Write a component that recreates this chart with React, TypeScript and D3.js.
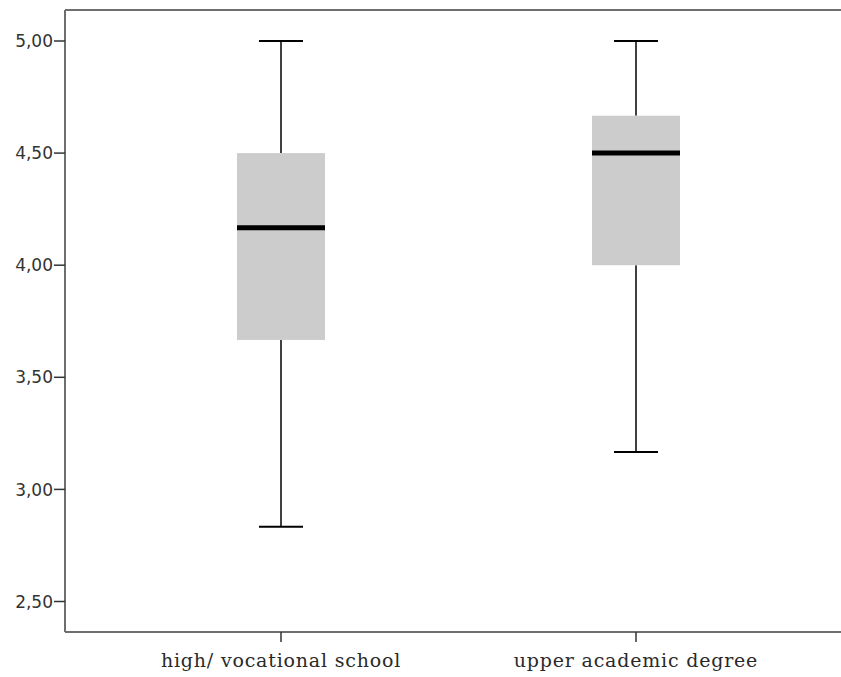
import React from "react";
import * as d3 from "d3";

// Five-number summaries per education group
const categories = ["high/ vocational school", "upper academic degree"];
const whiskerLow = [2.8333, 3.1667];
const q1 = [3.6667, 4.0];
const median = [4.1667, 4.5];
const q3 = [4.5, 4.6667];
const whiskerHigh = [5.0, 5.0];
const yTicks = [2.5, 3.0, 3.5, 4.0, 4.5, 5.0];

const W = 841;
const H = 677;
const left = 65;
const top = 10;
const bottom = 632;
const boxWidth = 88;

export default function App() {
  const y = d3.scaleLinear().domain([2.5, 5.0]).range([601.5, 41]);
  const x = d3.scalePoint<string>().domain(categories).range([281, 636]);
  const fmt = (v: number) => v.toFixed(2).replace(".", ",");
  const axisColor = "#6e6e6e";

  return (
    <svg width={W} height={H} style={{ position: "absolute", left: 0, top: 0 }}>
      <rect x={0} y={0} width={W} height={H} fill="#fff" />
      {/* frame */}
      <line x1={left} x2={W} y1={top} y2={top} stroke={axisColor} strokeWidth={2} />
      <line x1={left} x2={left} y1={top} y2={bottom} stroke={axisColor} strokeWidth={2} />
      <line x1={left} x2={W} y1={bottom} y2={bottom} stroke={axisColor} strokeWidth={2} />
      {/* y axis */}
      {yTicks.map((t) => (
        <g key={t}>
          <line x1={left - 11} x2={left} y1={y(t)} y2={y(t)} stroke="#333" strokeWidth={1.5} />
          <text x={left - 12} y={y(t)} dy="0.36em" textAnchor="end" fontFamily="DejaVu Sans" fontSize={17} fill="#333">
            {fmt(t)}
          </text>
        </g>
      ))}
      {/* boxes */}
      {categories.map((c, i) => {
        const cx = x(c)!;
        const bx = cx - boxWidth / 2;
        const capW = boxWidth / 2;
        return (
          <g key={c}>
            <line x1={cx} x2={cx} y1={y(whiskerHigh[i])} y2={y(q3[i])} stroke="#000" strokeWidth={1.5} />
            <line x1={cx} x2={cx} y1={y(q1[i])} y2={y(whiskerLow[i])} stroke="#000" strokeWidth={1.5} />
            <line x1={cx - capW / 2} x2={cx + capW / 2} y1={y(whiskerHigh[i])} y2={y(whiskerHigh[i])} stroke="#000" strokeWidth={2} />
            <line x1={cx - capW / 2} x2={cx + capW / 2} y1={y(whiskerLow[i])} y2={y(whiskerLow[i])} stroke="#000" strokeWidth={2} />
            <rect x={bx} y={y(q3[i])} width={boxWidth} height={y(q1[i]) - y(q3[i])} fill="#cccccc" />
            <line x1={bx} x2={bx + boxWidth} y1={y(median[i])} y2={y(median[i])} stroke="#000" strokeWidth={5} />
            <line x1={cx} x2={cx} y1={bottom} y2={bottom + 10} stroke="#333" strokeWidth={1.5} />
            <text x={cx} y={667} textAnchor="middle" fontFamily="DejaVu Serif" fontSize={19} letterSpacing={0.8} fill="#2a2a2a">
              {c}
            </text>
          </g>
        );
      })}
    </svg>
  );
}
